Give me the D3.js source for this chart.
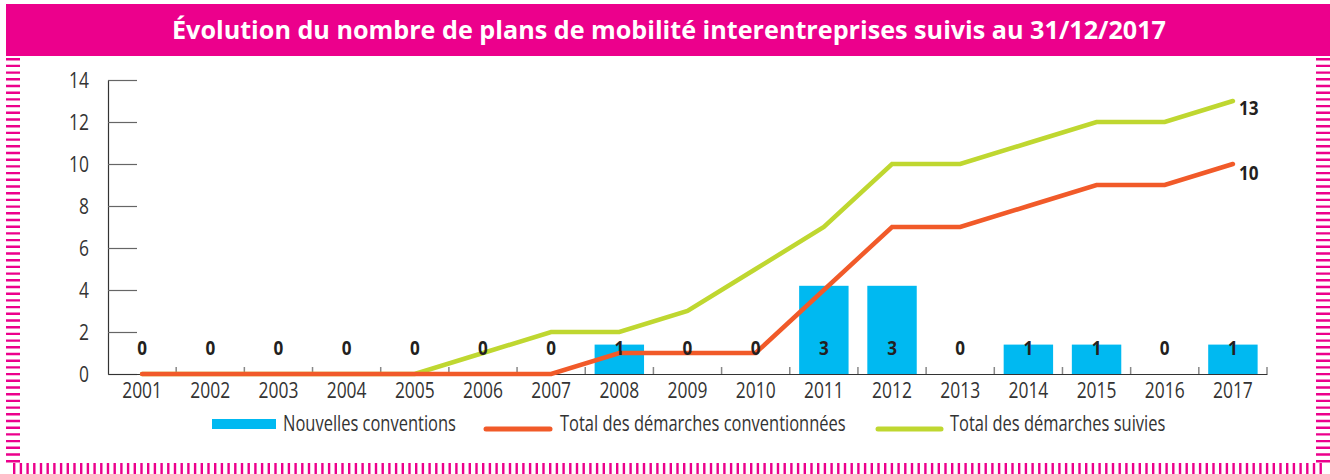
<!DOCTYPE html>
<html lang="fr">
<head>
<meta charset="utf-8">
<script src="https://cdn.jsdelivr.net/npm/d3@7/dist/d3.min.js"></script>
<style>
  html, body { margin: 0; padding: 0; background: #fff; }
  svg { display: block; }
  text { font-family: 'Open Sans', sans-serif; }
</style>
</head>
<body>
<div id="chart"></div>
<script>
// Années (catégories de l'axe horizontal)
const years = ["2001","2002","2003","2004","2005","2006","2007","2008","2009",
               "2010","2011","2012","2013","2014","2015","2016","2017"];
// Nouvelles conventions signées chaque année
const nouvellesConventions = [0,0,0,0,0,0,0,1,0,0,3,3,0,1,1,0,1];
// Total cumulé des démarches conventionnées
const totalConventionnees = [0,0,0,0,0,0,0,1,1,1,4,7,7,8,9,9,10];
// Total cumulé des démarches suivies
const totalSuivies = [0,0,0,0,0,1,2,2,3,5,7,10,10,11,12,12,13];
// Graduations de l'axe vertical
const yTicks = [0,2,4,6,8,10,12,14];
// Libellés de la légende
const legendLabels = ["Nouvelles conventions","Total des démarches conventionnées","Total des démarches suivies"];
const title = "Évolution du nombre de plans de mobilité interentreprises suivis au 31/12/2017";

const W = 1330, H = 474;
const PINK = "#EC008C", BLUE = "#00B9F1", RED = "#F15A29", GREEN = "#BFD730";
const INK = "#231F20", AXIS_TXT = "#333";
const COND = 0.83;        // compression horizontale du texte (police étroite)
const COND_LEGEND = 0.785;

const svg = d3.select("#chart").append("svg")
  .attr("width", W).attr("height", H);

// Bandeau de titre
svg.append("rect").attr("x", 6).attr("y", 4).attr("width", W - 6).attr("height", 52)
  .attr("fill", PINK);
svg.append("text")
  .attr("x", 669).attr("y", 39)
  .attr("text-anchor", "middle")
  .attr("fill", "#fff").attr("font-weight", 700).attr("font-size", 25)
  .attr("textLength", 994).attr("lengthAdjust", "spacingAndGlyphs")
  .text(title);

// Cadre en pointillés roses
const frame = svg.append("g").attr("stroke", PINK).attr("fill", "none");
frame.append("line").attr("x1", 13).attr("x2", 13).attr("y1", 58).attr("y2", 466)
  .attr("stroke-width", 14).attr("stroke-dasharray", "2.4 4.3");
frame.append("line").attr("x1", 1323).attr("x2", 1323).attr("y1", 58).attr("y2", 466)
  .attr("stroke-width", 14).attr("stroke-dasharray", "2.4 4.3");
frame.append("line").attr("x1", 13).attr("x2", 1322).attr("y1", 468.5).attr("y2", 468.5)
  .attr("stroke-width", 11).attr("stroke-dasharray", "2.4 4.3");

// Zone de tracé
const plot = { left: 108, right: 1267, top: 80, bottom: 374 };

const x = d3.scaleBand().domain(years).range([plot.left, plot.right]).paddingInner(0.275).paddingOuter(0.1375);
const xStep = d3.scaleBand().domain(years).range([plot.left, plot.right]);
const y = d3.scaleLinear().domain([0, 14]).range([plot.bottom, plot.top]);
// échelle secondaire (non affichée) des nouvelles conventions
const yBar = d3.scaleLinear().domain([0, 10]).range([plot.bottom, plot.top]);
const cx = d => xStep(d) + xStep.bandwidth() / 2;

// Axe vertical
const yAxis = svg.append("g").attr("transform", `translate(${plot.left},0)`)
  .call(d3.axisLeft(y).tickValues(yTicks).tickSize(0).tickFormat(d3.format("d")));
yAxis.select(".domain").attr("stroke", "#333").attr("stroke-width", 1.2);
yAxis.selectAll(".tick line").remove();
yAxis.selectAll(".tick text").remove();
yAxis.selectAll(".tick").append("line")
  .attr("x1", 0).attr("x2", 29).attr("stroke", "#666").attr("stroke-width", 1.2);
yAxis.selectAll(".tick").append("text")
  .attr("transform", `translate(-19,7.5) scale(${COND},1)`)
  .attr("text-anchor", "end").attr("fill", AXIS_TXT).attr("font-size", 21)
  .text(d => d);

// Axe horizontal
const xAxis = svg.append("g").attr("transform", `translate(0,${plot.bottom})`)
  .call(d3.axisBottom(xStep).tickSize(0).tickSizeOuter(0));
xAxis.select(".domain").attr("stroke", "#333").attr("stroke-width", 1.2);
xAxis.selectAll(".tick text").remove();
xAxis.selectAll(".tick").append("text")
  .attr("transform", `translate(0,24) scale(${COND},1)`)
  .attr("text-anchor", "middle").attr("fill", AXIS_TXT).attr("font-size", 21)
  .text(d => d);
// petites graduations entre les années
svg.append("g").selectAll("line")
  .data(years.slice(1).concat(["end"]))
  .join("line")
  .attr("x1", d => d === "end" ? plot.right : xStep(d))
  .attr("x2", d => d === "end" ? plot.right : xStep(d))
  .attr("y1", plot.bottom - 7).attr("y2", plot.bottom)
  .attr("stroke", "#888").attr("stroke-width", 1.5);

// Barres : nouvelles conventions
const rows = years.map((yr, i) => ({ yr, n: nouvellesConventions[i], c: totalConventionnees[i], s: totalSuivies[i] }));
svg.append("g").selectAll("rect")
  .data(rows.filter(d => d.n > 0))
  .join("rect")
  .attr("x", d => x(d.yr)).attr("width", x.bandwidth())
  .attr("y", d => yBar(d.n)).attr("height", d => yBar(0) - yBar(d.n))
  .attr("fill", BLUE);

// Courbes cumulées
const line = key => d3.line().x(d => cx(d.yr)).y(d => y(d[key]));
svg.append("path").datum(rows).attr("d", line("s"))
  .attr("fill", "none").attr("stroke", GREEN).attr("stroke-width", 4.5)
  .attr("stroke-linejoin", "miter").attr("stroke-linecap", "round");
svg.append("path").datum(rows).attr("d", line("c"))
  .attr("fill", "none").attr("stroke", RED).attr("stroke-width", 4.5)
  .attr("stroke-linejoin", "miter").attr("stroke-linecap", "round");

// Valeurs des nouvelles conventions
svg.append("g").selectAll("text")
  .data(rows)
  .join("text")
  .attr("transform", d => `translate(${cx(d.yr)},355) scale(0.9,1)`)
  .attr("text-anchor", "middle").attr("font-weight", 700).attr("font-size", 19)
  .attr("fill", INK)
  .text(d => d.n);

// Valeurs finales des totaux
const last = rows[rows.length - 1];
[["s", 14], ["c", 16]].forEach(([key, dy]) => {
  svg.append("text")
    .attr("transform", `translate(${cx(last.yr) + 6},${y(last[key]) + dy}) scale(0.9,1)`)
    .attr("font-weight", 700).attr("font-size", 19).attr("fill", INK)
    .text(last[key]);
});

// Légende
const lg = svg.append("g");
lg.append("rect").attr("x", 212).attr("y", 419).attr("width", 64).attr("height", 10).attr("fill", BLUE);
lg.append("line").attr("x1", 486).attr("x2", 550).attr("y1", 429).attr("y2", 429)
  .attr("stroke", RED).attr("stroke-width", 5).attr("stroke-linecap", "round");
lg.append("line").attr("x1", 878).attr("x2", 941).attr("y1", 429).attr("y2", 429)
  .attr("stroke", GREEN).attr("stroke-width", 5).attr("stroke-linecap", "round");
[[283, legendLabels[0]], [560, legendLabels[1]], [950, legendLabels[2]]].forEach(([lx, t]) => {
  lg.append("text")
    .attr("transform", `translate(${lx},431) scale(${COND_LEGEND},1)`)
    .attr("font-size", 21).attr("fill", AXIS_TXT)
    .text(t);
});
</script>
</body>
</html>
